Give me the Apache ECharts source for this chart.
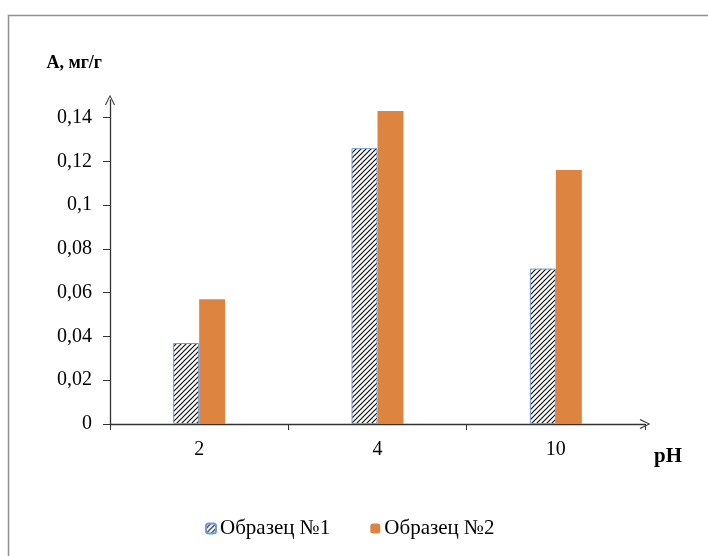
<!DOCTYPE html>
<html>
<head>
<meta charset="utf-8">
<script src="https://cdn.jsdelivr.net/npm/echarts@6/dist/echarts.min.js"></script>
<style>
  html, body { margin: 0; padding: 0; background: #fff; }
  #chart { width: 708px; height: 556px; }
</style>
</head>
<body>
<div id="chart"></div>
<script>
// Datos del gráfico
const categories = ["2", "4", "10"];
const sample1 = [0.037, 0.126, 0.071];
const sample2 = [0.057, 0.143, 0.116];
const yTicks = [0, 0.02, 0.04, 0.06, 0.08, 0.1, 0.12, 0.14];
const seriesNames = ["Образец №1", "Образец №2"];

// Rayado diagonal para la primera serie
const makeHatch = () => {
    const c = document.createElement("canvas");
    c.width = 5;
    c.height = 5;
    const ctx = c.getContext("2d");
    ctx.fillStyle = "#fff";
    ctx.fillRect(0, 0, 5, 5);
    ctx.strokeStyle = "#111";
    ctx.lineWidth = 1.2;
    ctx.beginPath();
    ctx.moveTo(-1, 6); ctx.lineTo(6, -1);
    ctx.moveTo(-1, 1); ctx.lineTo(1, -1);
    ctx.moveTo(4, 6); ctx.lineTo(6, 4);
    ctx.stroke();
    return c;
};

// Flecha abierta (chevron) para los ejes
const chevron = "path://M0,10 L5,0 L10,10 L9,10.7 L5,2.2 L1,10.7 Z";
const font = "Liberation Serif";
const fmt = (v) => String(v).replace(".", ",");

const chart = echarts.init(document.getElementById("chart"));

const option = {
    animation: false,
    textStyle: { fontFamily: font, color: "#000" },
    graphic: [
        {
            type: "rect",
            shape: { x: 8.5, y: 15.5, width: 900, height: 900 },
            style: { fill: "none", stroke: "#8f8f8f", lineWidth: 1.5 },
            silent: true
        }
    ],
    legend: {
        bottom: 12,
        left: 200,
        itemWidth: 10,
        itemHeight: 10,
        itemGap: 40,
        data: seriesNames,
        textStyle: { fontFamily: font, fontSize: 21, color: "#000", padding: [0, 0, 0, -1] }
    },
    grid: { left: 110, right: 63, top: 100, bottom: 132 },
    xAxis: {
        type: "category",
        data: categories,
        name: "pH",
        nameLocation: "end",
        nameGap: 9,
        nameTextStyle: {
            fontFamily: font, fontSize: 21, fontWeight: "bold", color: "#000",
            verticalAlign: "top", padding: [22, 0, 0, 0]
        },
        axisLine: {
            lineStyle: { color: "#333", width: 1.3 },
            symbol: ["none", chevron],
            symbolSize: [10, 14]
        },
        axisTick: { show: true, length: 6, lineStyle: { color: "#333" } },
        axisLabel: { fontFamily: font, fontSize: 20, color: "#000", margin: 16 },
        splitLine: { show: false }
    },
    yAxis: {
        type: "value",
        min: 0,
        max: 0.148,
        name: "А, мг/г",
        nameLocation: "end",
        nameGap: 28,
        nameTextStyle: {
            fontFamily: font, fontSize: 18, fontWeight: "bold", color: "#000",
            align: "right", padding: [0, 8, 0, 0]
        },
        axisLine: {
            show: true,
            lineStyle: { color: "#333", width: 1.3 },
            symbol: ["none", chevron],
            symbolSize: [10, 14]
        },
        axisTick: { show: true, length: 7, customValues: yTicks, lineStyle: { color: "#333" } },
        axisLabel: {
            fontFamily: font, fontSize: 20, color: "#000", margin: 18,
            customValues: yTicks,
            formatter: fmt
        },
        splitLine: { show: false }
    },
    series: [
        {
            name: seriesNames[0],
            type: "bar",
            barWidth: 26,
            barGap: "0%",
            data: sample1,
            itemStyle: {
                color: { image: makeHatch(), repeat: "repeat" },
                borderColor: "#6f9bd6",
                borderWidth: 1
            }
        },
        {
            name: seriesNames[1],
            type: "bar",
            barWidth: 26,
            data: sample2,
            itemStyle: { color: "#dd8441" }
        }
    ]
};

chart.setOption(option);
</script>
</body>
</html>
